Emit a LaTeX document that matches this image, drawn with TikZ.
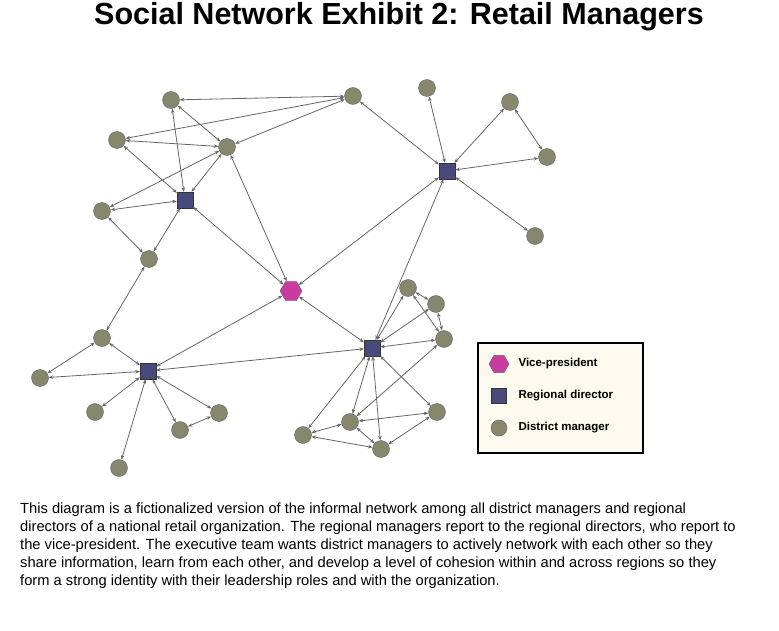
\documentclass[tikz,border=0pt]{standalone}
\usepackage{fontspec}
\setmainfont{Liberation Sans}
\usetikzlibrary{shapes.geometric,arrows.meta}
\begin{document}
\begin{tikzpicture}[x=1pt,y=-1pt,
  dm/.style={circle,draw=black!60,fill={rgb,255:red,134;green,135;blue,108},minimum size=17pt,inner sep=0pt},
  rd/.style={rectangle,draw=black!80,fill={rgb,255:red,72;green,74;blue,124},minimum size=16pt,inner sep=0pt},
  vp/.style={regular polygon,regular polygon sides=6,draw=black!60,fill={rgb,255:red,200;green,60;blue,160},minimum size=22pt,inner sep=0pt},
  ed/.style={draw=black!60,line width=0.8pt,{Stealth[length=4.5pt,width=3.5pt]}-{Stealth[length=4.5pt,width=3.5pt]}}]
\useasboundingbox (0,0) rectangle (779,631);
\node[font=\bfseries\fontsize{30.5}{34}\selectfont] (title) at (399,17) {Social Network Exhibit 2: Retail Managers};
% nodes
\node[vp] (VP) at (291,291) {};
\node[rd] (R1) at (185,200) {};
\node[rd] (R2) at (447,171) {};
\node[rd] (R3) at (372,348) {};
\node[rd] (R4) at (148,371) {};
\foreach \n/\x/\y in {A1/171/100,A2/353/96,A3/117/140,A4/227/147,A5/102/211,A6/149/259,
  C1/427/88,C2/510/102,C3/547/157,C4/535/236,
  B1/102/338,B2/40/378,B3/95/412,B4/180/430,B5/219/413,B6/119/468,
  D1/408/288,D2/436/304,D3/444/339,D4/437/412,D5/350/422,D6/303/435,D7/381/449}
  \node[dm] (\n) at (\x,\y) {};
% edges
\foreach \a/\b in {A1/A2,A2/A3,A2/A4,A1/A4,A3/A4,A1/R1,A3/R1,A4/R1,A4/A5,A5/R1,R1/A6,A5/A6,R1/VP,A4/VP,A6/B1,
  A2/R2,C1/R2,C2/R2,C2/C3,C3/R2,C4/R2,R2/VP,R2/R3,
  B1/R4,B1/B2,B2/R4,B3/R4,R4/B4,R4/B5,B4/B5,R4/B6,R4/VP,R4/R3,
  VP/R3,D1/R3,D2/R3,D3/R3,D1/D2,D1/D3,D2/D3,R3/D4,R3/D5,R3/D6,R3/D7,D3/D5,D5/D4,D6/D5,D6/D7,D5/D7,D7/D4}
  \draw[ed] (\a) -- (\b);
% legend
\draw[line width=1.2pt,fill={rgb,255:red,252;green,250;blue,238}] (478,343) rectangle (643,453);
\node[vp,minimum size=20pt] (LV) at (499,364) {};
\node[rd,minimum size=15pt] (LR) at (499,396) {};
\node[dm,minimum size=16pt] (LD) at (499,428) {};
\node[anchor=west,font=\bfseries\fontsize{11.5}{13}\selectfont] (LVt) at (515,364) {Vice-president};
\node[anchor=west,font=\bfseries\fontsize{11.5}{13}\selectfont] (LRt) at (515,396) {Regional director};
\node[anchor=west,font=\bfseries\fontsize{11.5}{13}\selectfont] (LDt) at (515,428) {District manager};
% caption
\node[anchor=north west,align=left,inner sep=0pt,font=\fontsize{14.7}{17.8}\selectfont] (cap) at (20,503) {This diagram is a fictionalized version of the informal network among all district managers and regional\\directors of a national retail organization. The regional managers report to the regional directors, who report to\\the vice-president. The executive team wants district managers to actively network with each other so they\\share information, learn from each other, and develop a level of cohesion within and across regions so they\\form a strong identity with their leadership roles and with the organization.};
\end{tikzpicture}
\end{document}
